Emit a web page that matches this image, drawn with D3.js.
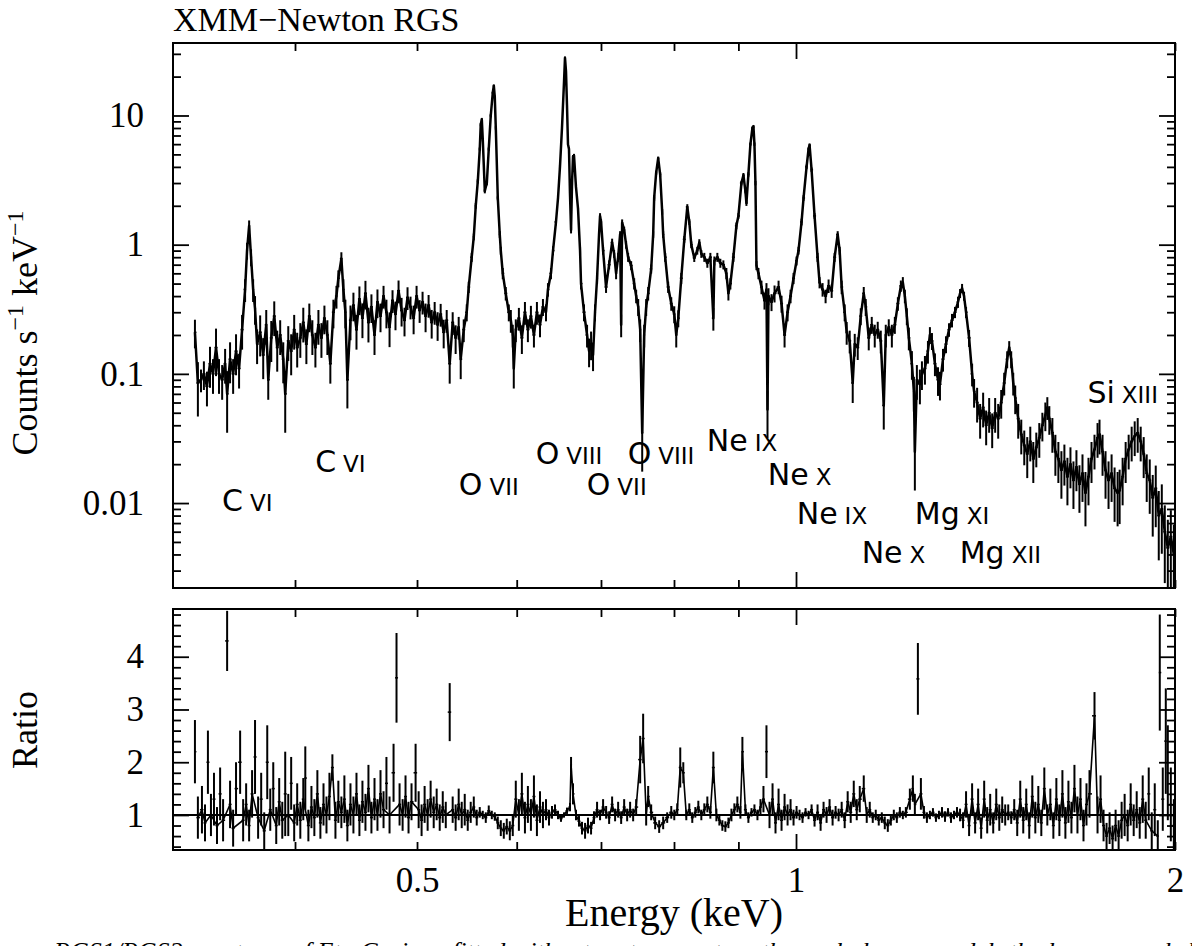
<!DOCTYPE html>
<html>
<head>
<meta charset="utf-8">
<script src="https://cdn.jsdelivr.net/npm/d3@7"></script>
<style>
  body { margin: 0; background: #fff; }
  svg text { fill: #000; }
</style>
</head>
<body>
<svg id="chart" width="1192" height="946"></svg>
<script>
// RGS spectrum: [energy keV, counts/s/keV, relative error]
const spectrum = [
  [0.3331,0.21,0.25],[0.3349,0.085,0.45],[0.3368,0.09,0.2],[0.3386,0.10,0.25],[0.3405,0.08,0.3],
  [0.3424,0.12,0.35],[0.3443,0.10,0.3],[0.3462,0.16,0.4],[0.3481,0.10,0.3],[0.3501,0.09,0.3],
  [0.3520,0.12,0.3],[0.3533,0.07,0.5],[0.3552,0.13,0.35],[0.3572,0.10,0.3],[0.3591,0.15,0.35],
  [0.3611,0.11,0.3],[0.3631,0.22,0.3],[0.3651,0.45,0.2],[0.3664,0.9,0.15],[0.3678,1.4,0.1],
  [0.3691,0.8,0.15],[0.3705,0.45,0.2],[0.3718,0.32,0.25],[0.3732,0.17,0.3],[0.3753,0.21,0.35],
  [0.3774,0.14,0.35],[0.3795,0.24,0.3],[0.3809,0.09,0.3],[0.3830,0.19,0.35],[0.3851,0.28,0.3],
  [0.3872,0.16,0.35],[0.3893,0.20,0.3],[0.3915,0.13,0.35],[0.3929,0.07,0.5],[0.3951,0.18,0.3],
  [0.3972,0.15,0.35],[0.3994,0.22,0.3],[0.4016,0.16,0.3],[0.4039,0.19,0.3],[0.4061,0.25,0.3],
  [0.4084,0.17,0.3],[0.4106,0.28,0.25],[0.4129,0.20,0.3],[0.4152,0.16,0.3],[0.4175,0.24,0.3],
  [0.4198,0.19,0.3],[0.4221,0.27,0.25],[0.4244,0.20,0.3],[0.4267,0.12,0.3],[0.4291,0.30,0.25],
  [0.4315,0.40,0.2],[0.4330,0.55,0.15],[0.4354,0.78,0.12],[0.4370,0.45,0.2],[0.4386,0.30,0.25],
  [0.4402,0.09,0.4],[0.4427,0.26,0.3],[0.4451,0.34,0.25],[0.4476,0.22,0.3],[0.4500,0.38,0.25],
  [0.4525,0.27,0.3],[0.4550,0.42,0.25],[0.4575,0.25,0.3],[0.4600,0.33,0.25],[0.4626,0.20,0.3],
  [0.4651,0.36,0.25],[0.4677,0.28,0.25],[0.4703,0.40,0.2],[0.4728,0.30,0.25],[0.4755,0.23,0.3],
  [0.4781,0.37,0.2],[0.4807,0.29,0.25],[0.4834,0.44,0.2],[0.4861,0.31,0.25],[0.4887,0.26,0.25],
  [0.4914,0.39,0.2],[0.4941,0.33,0.2],[0.4969,0.27,0.25],[0.4996,0.40,0.2],[0.5024,0.31,0.2],
  [0.5051,0.36,0.2],[0.5079,0.28,0.25],[0.5107,0.34,0.2],[0.5136,0.25,0.25],[0.5164,0.30,0.2],
  [0.5192,0.24,0.25],[0.5221,0.29,0.2],[0.5250,0.21,0.25],[0.5279,0.26,0.2],[0.5308,0.12,0.3],
  [0.5337,0.25,0.2],[0.5366,0.19,0.25],[0.5396,0.23,0.2],[0.5416,0.13,0.3],[0.5446,0.22,0.2],
  [0.5476,0.30,0.15],[0.5496,0.47,0.1],[0.5526,0.8,0.08],[0.5547,1.15,0.06],[0.5567,2.0,0.05],
  [0.5588,3.1,0.04],[0.5608,5.5,0.03],[0.5618,8.5,0.03],[0.5629,9.3,0.03],[0.5639,6.5,0.03],
  [0.5660,2.6,0.04],[0.5681,3.0,0.04],[0.5701,5.5,0.03],[0.5722,10,0.03],[0.5743,15,0.02],
  [0.5754,17,0.02],[0.5764,14,0.02],[0.5775,8,0.03],[0.5796,2.3,0.04],[0.5817,1.2,0.06],
  [0.5828,0.9,0.07],[0.5849,0.6,0.1],[0.5881,0.42,0.12],[0.5914,0.30,0.15],[0.5936,0.26,0.2],
  [0.5957,0.20,0.2],[0.5968,0.11,0.3],[0.5990,0.22,0.2],[0.6024,0.27,0.2],[0.6057,0.19,0.25],
  [0.6091,0.30,0.2],[0.6124,0.22,0.2],[0.6158,0.28,0.2],[0.6192,0.20,0.2],[0.6226,0.30,0.2],
  [0.6261,0.24,0.2],[0.6295,0.33,0.15],[0.6330,0.30,0.15],[0.6353,0.45,0.12],[0.6388,0.6,0.1],
  [0.6412,0.9,0.08],[0.6447,1.5,0.06],[0.6471,2.3,0.05],[0.6494,4,0.04],[0.6518,8,0.03],
  [0.6542,18,0.02],[0.6554,28,0.02],[0.6566,22,0.02],[0.6578,12,0.02],[0.6590,6,0.03],
  [0.6602,5.5,0.03],[0.6614,2.5,0.04],[0.6627,1.3,0.06],[0.6639,3,0.04],[0.6651,4.8,0.03],
  [0.6663,4.9,0.03],[0.6687,2.8,0.04],[0.6712,1.9,0.05],[0.6737,0.9,0.07],[0.6749,0.5,0.1],
  [0.6786,0.30,0.15],[0.6824,0.20,0.2],[0.6849,0.15,0.25],[0.6874,0.17,0.25],[0.6899,0.14,0.25],
  [0.6924,0.30,0.15],[0.6950,0.55,0.1],[0.6975,1.2,0.06],[0.6988,1.67,0.05],[0.7001,1.5,0.05],
  [0.7027,0.9,0.07],[0.7065,0.47,0.1],[0.7105,0.7,0.08],[0.7144,1.04,0.07],[0.7170,0.85,0.07],
  [0.7196,0.6,0.1],[0.7223,0.8,0.08],[0.7249,1.2,0.06],[0.7263,0.24,0.2],[0.7276,1.48,0.06],
  [0.7303,1.3,0.06],[0.7329,1.0,0.07],[0.7356,0.8,0.08],[0.7397,0.69,0.08],[0.7438,0.5,0.1],
  [0.7465,0.40,0.12],[0.7493,0.33,0.15],[0.7520,0.22,0.2],[0.7548,0.035,0.5],[0.7575,0.20,0.2],
  [0.7603,0.33,0.15],[0.7631,0.42,0.12],[0.7673,0.65,0.08],[0.7701,1.2,0.06],[0.7715,2.3,0.05],
  [0.7743,3.6,0.04],[0.7772,4.67,0.03],[0.7800,3.5,0.04],[0.7829,1.8,0.05],[0.7843,1.2,0.06],
  [0.7872,0.8,0.08],[0.7915,0.47,0.1],[0.7960,0.35,0.12],[0.8004,0.29,0.15],[0.8033,0.20,0.2],
  [0.8063,0.27,0.15],[0.8107,0.55,0.1],[0.8152,1.1,0.06],[0.8197,1.96,0.05],[0.8227,1.5,0.05],
  [0.8257,1.0,0.06],[0.8302,0.79,0.07],[0.8348,0.9,0.07],[0.8379,1.04,0.06],[0.8410,0.85,0.07],
  [0.8456,0.8,0.08],[0.8503,0.72,0.08],[0.8550,0.8,0.08],[0.8597,0.27,0.2],[0.8613,0.75,0.08],
  [0.8660,0.8,0.08],[0.8708,0.72,0.08],[0.8756,0.7,0.08],[0.8804,0.6,0.1],[0.8837,0.42,0.12],
  [0.8869,0.5,0.1],[0.8918,0.8,0.08],[0.8967,1.4,0.06],[0.9000,1.67,0.05],[0.9050,3.0,0.04],
  [0.9083,3.45,0.04],[0.9116,2.6,0.04],[0.9133,2.1,0.05],[0.9166,3.5,0.04],[0.9200,6,0.03],
  [0.9234,8.0,0.03],[0.9251,8.2,0.03],[0.9268,6,0.03],[0.9285,3,0.04],[0.9302,0.69,0.08],
  [0.9336,0.6,0.1],[0.9388,0.47,0.12],[0.9440,0.37,0.15],[0.9474,0.45,0.12],[0.9492,0.053,0.4],
  [0.9509,0.40,0.15],[0.9562,0.36,0.15],[0.9615,0.42,0.15],[0.9686,0.47,0.12],[0.9739,0.35,0.15],
  [0.9793,0.20,0.2],[0.9847,0.30,0.15],[0.9901,0.40,0.12],[0.9955,0.55,0.1],[1.0010,0.75,0.08],
  [1.0046,0.9,0.07],[1.0102,1.5,0.06],[1.0139,2.3,0.05],[1.0195,4.0,0.04],[1.0232,5.5,0.03],
  [1.0251,5.9,0.03],[1.0289,3.8,0.04],[1.0345,1.67,0.05],[1.0402,0.8,0.08],[1.0440,0.51,0.1],
  [1.0498,0.45,0.12],[1.0556,0.40,0.12],[1.0614,0.48,0.12],[1.0674,0.44,0.12],[1.0732,0.8,0.08],
  [1.0792,1.2,0.06],[1.0831,0.9,0.07],[1.0871,0.47,0.12],[1.0931,0.30,0.15],[1.0971,0.21,0.2],
  [1.1032,0.18,0.2],[1.1093,0.085,0.3],[1.1134,0.17,0.2],[1.1195,0.16,0.2],[1.1257,0.28,0.15],
  [1.1319,0.42,0.12],[1.1360,0.33,0.15],[1.1423,0.19,0.2],[1.1486,0.24,0.15],[1.1549,0.20,0.2],
  [1.1612,0.22,0.15],[1.1677,0.18,0.2],[1.1741,0.057,0.35],[1.1784,0.20,0.2],[1.1849,0.23,0.15],
  [1.1916,0.20,0.2],[1.1981,0.24,0.15],[1.2048,0.35,0.12],[1.2114,0.48,0.1],[1.2158,0.51,0.1],
  [1.2203,0.40,0.12],[1.2247,0.28,0.15],[1.2292,0.19,0.2],[1.2361,0.12,0.25],[1.2406,0.073,0.3],
  [1.2428,0.025,0.5],[1.2474,0.09,0.3],[1.2543,0.083,0.3],[1.2590,0.10,0.25],[1.2659,0.11,0.25],
  [1.2729,0.15,0.2],[1.2775,0.20,0.15],[1.2823,0.18,0.15],[1.2893,0.12,0.2],[1.2965,0.09,0.25],
  [1.3012,0.083,0.25],[1.3084,0.13,0.2],[1.3156,0.17,0.15],[1.3229,0.22,0.12],[1.3302,0.26,0.12],
  [1.3375,0.30,0.1],[1.3449,0.36,0.1],[1.3499,0.42,0.08],[1.3549,0.46,0.08],[1.3598,0.40,0.08],
  [1.3648,0.30,0.1],[1.3724,0.19,0.15],[1.3800,0.10,0.2],[1.3850,0.073,0.25],[1.3927,0.06,0.3],
  [1.4004,0.045,0.3],[1.4081,0.055,0.3],[1.4159,0.04,0.3],[1.4237,0.05,0.3],[1.4316,0.038,0.3],
  [1.4394,0.05,0.3],[1.4474,0.045,0.3],[1.4554,0.06,0.25],[1.4634,0.085,0.2],[1.4714,0.13,0.15],
  [1.4769,0.16,0.12],[1.4823,0.13,0.15],[1.4878,0.085,0.2],[1.4932,0.065,0.25],[1.5014,0.045,0.3],
  [1.5098,0.034,0.3],[1.5181,0.028,0.3],[1.5264,0.024,0.35],[1.5349,0.030,0.3],[1.5434,0.022,0.35],
  [1.5519,0.027,0.3],[1.5604,0.032,0.3],[1.5692,0.040,0.25],[1.5778,0.048,0.25],[1.5835,0.055,0.2],
  [1.5893,0.045,0.25],[1.5982,0.035,0.3],[1.6070,0.025,0.35],[1.6158,0.022,0.35],[1.6248,0.018,0.4],
  [1.6337,0.021,0.35],[1.6428,0.016,0.4],[1.6519,0.020,0.35],[1.6610,0.015,0.4],[1.6701,0.019,0.35],
  [1.6793,0.014,0.4],[1.6887,0.017,0.4],[1.6979,0.012,0.45],[1.7073,0.016,0.4],[1.7168,0.022,0.35],
  [1.7262,0.026,0.3],[1.7358,0.032,0.3],[1.7421,0.034,0.3],[1.7518,0.025,0.35],[1.7614,0.018,0.4],
  [1.7711,0.015,0.4],[1.7810,0.017,0.4],[1.7908,0.013,0.45],[1.8007,0.012,0.45],[1.8074,0.0125,0.45],
  [1.8173,0.016,0.4],[1.8274,0.022,0.35],[1.8375,0.026,0.3],[1.8476,0.030,0.3],[1.8579,0.033,0.3],
  [1.8681,0.035,0.3],[1.8784,0.030,0.3],[1.8887,0.024,0.35],[1.8992,0.017,0.4],[1.9097,0.015,0.45],
  [1.9202,0.011,0.5],[1.9308,0.013,0.5],[1.9415,0.008,0.55],[1.9523,0.009,0.55],[1.9630,0.006,0.6],
  [1.9739,0.0045,0.65],[1.9848,0.0055,0.6],[1.9958,0.004,0.7]
];

// data/model ratio: [energy keV, ratio, error]
const ratio = [
  [0.3331,2.2,0.6],[0.3349,0.95,0.4],[0.3374,1.1,0.45],[0.3393,0.85,0.35],[0.3411,2.0,0.6],
  [0.3430,1.0,0.4],[0.3449,1.3,0.5],[0.3468,0.8,0.35],[0.3488,1.4,0.5],[0.3507,0.9,0.4],
  [0.3533,4.3,0.57],[0.3552,1.2,0.45],[0.3572,0.75,0.35],[0.3591,1.5,0.5],[0.3618,2.0,0.6],
  [0.3638,0.9,0.4],[0.3658,1.2,0.4],[0.3678,0.8,0.3],[0.3698,1.4,0.45],[0.3718,2.1,0.7],
  [0.3739,0.95,0.4],[0.3760,1.3,0.5],[0.3781,0.7,0.35],[0.3802,2.0,0.7],[0.3823,1.1,0.4],
  [0.3844,1.5,0.5],[0.3865,0.8,0.35],[0.3886,1.25,0.45],[0.3908,0.9,0.35],[0.3929,1.4,0.8],
  [0.3951,1.0,0.4],[0.3972,1.6,0.5],[0.3994,0.85,0.35],[0.4016,1.2,0.4],[0.4039,0.9,0.35],
  [0.4061,1.3,0.4],[0.4076,1.7,0.6],[0.4099,0.8,0.3],[0.4122,1.15,0.4],[0.4144,0.95,0.35],
  [0.4167,1.4,0.45],[0.4190,0.85,0.3],[0.4214,1.2,0.4],[0.4237,1.0,0.35],[0.4260,1.35,0.45],
  [0.4283,1.9,0.25],[0.4307,0.9,0.35],[0.4330,1.25,0.4],[0.4354,1.05,0.3],[0.4378,1.3,0.45],
  [0.4402,0.8,0.3],[0.4427,1.2,0.4],[0.4451,1.0,0.35],[0.4476,1.4,0.4],[0.4500,0.9,0.3],
  [0.4525,1.25,0.4],[0.4550,1.05,0.35],[0.4575,1.5,0.45],[0.4600,0.95,0.3],[0.4626,1.3,0.4],
  [0.4651,1.0,0.3],[0.4677,1.4,0.45],[0.4703,1.1,0.35],[0.4728,1.6,0.5],[0.4755,1.0,0.35],
  [0.4790,1.8,0.55],[0.4816,3.6,0.85],[0.4843,1.2,0.4],[0.4870,1.0,0.3],[0.4896,1.35,0.4],
  [0.4923,0.95,0.3],[0.4950,1.25,0.35],[0.4987,1.8,0.55],[0.5015,1.1,0.35],[0.5042,0.9,0.3],
  [0.5070,1.2,0.35],[0.5098,1.0,0.3],[0.5126,1.3,0.35],[0.5155,1.05,0.3],[0.5183,1.2,0.3],
  [0.5212,0.95,0.25],[0.5241,1.15,0.3],[0.5270,1.0,0.25],[0.5308,2.95,0.55],[0.5337,1.1,0.25],
  [0.5366,0.95,0.25],[0.5396,1.2,0.3],[0.5426,1.0,0.25],[0.5456,1.1,0.3],[0.5486,0.9,0.2],
  [0.5516,1.05,0.2],[0.5547,1.15,0.2],[0.5577,0.95,0.15],[0.5608,1.05,0.1],[0.5639,1.0,0.08],
  [0.5670,0.95,0.1],[0.5701,1.08,0.1],[0.5733,1.0,0.08],[0.5764,0.97,0.08],[0.5796,0.85,0.12],
  [0.5828,0.75,0.15],[0.5860,0.7,0.15],[0.5892,0.78,0.15],[0.5925,0.7,0.18],[0.5957,0.8,0.2],
  [0.5990,1.3,0.35],[0.6024,1.0,0.3],[0.6057,1.4,0.4],[0.6091,0.95,0.3],[0.6124,1.2,0.35],
  [0.6158,1.0,0.3],[0.6192,1.35,0.4],[0.6226,0.9,0.3],[0.6261,1.15,0.3],[0.6295,1.0,0.25],
  [0.6330,1.1,0.2],[0.6365,0.95,0.15],[0.6400,1.05,0.12],[0.6435,1.1,0.1],[0.6471,1.0,0.08],
  [0.6506,0.93,0.06],[0.6542,1.0,0.05],[0.6578,1.08,0.06],[0.6614,1.15,0.08],[0.6627,1.95,0.15],
  [0.6651,1.4,0.2],[0.6687,1.0,0.1],[0.6724,0.88,0.1],[0.6761,0.75,0.12],[0.6799,0.7,0.15],
  [0.6836,0.8,0.15],[0.6874,0.75,0.12],[0.6911,0.95,0.12],[0.6950,1.1,0.15],[0.6988,1.0,0.1],
  [0.7027,1.15,0.15],[0.7066,1.05,0.12],[0.7105,0.95,0.12],[0.7144,1.2,0.15],[0.7183,1.0,0.12],
  [0.7223,1.1,0.15],[0.7263,0.95,0.12],[0.7303,1.15,0.15],[0.7343,1.0,0.12],[0.7383,1.1,0.15],
  [0.7424,1.0,0.12],[0.7465,1.15,0.15],[0.7520,2.05,0.45],[0.7561,2.45,0.47],[0.7603,1.0,0.2],
  [0.7631,1.35,0.2],[0.7673,1.05,0.15],[0.7729,0.85,0.12],[0.7786,0.78,0.12],[0.7843,0.85,0.12],
  [0.7901,0.95,0.1],[0.7960,1.05,0.12],[0.8004,1.0,0.1],[0.8048,1.1,0.12],[0.8092,1.9,0.38],
  [0.8137,1.8,0.2],[0.8182,1.0,0.1],[0.8227,1.1,0.12],[0.8272,0.95,0.1],[0.8318,1.05,0.1],
  [0.8364,1.15,0.12],[0.8410,1.0,0.1],[0.8456,1.1,0.12],[0.8503,1.2,0.15],[0.8550,1.05,0.12],
  [0.8597,1.9,0.3],[0.8645,1.0,0.12],[0.8692,0.9,0.1],[0.8740,0.8,0.1],[0.8788,0.78,0.1],
  [0.8837,0.85,0.1],[0.8886,1.0,0.12],[0.8934,1.1,0.12],[0.8983,1.2,0.15],[0.9033,1.05,0.12],
  [0.9066,2.2,0.28],[0.9116,1.1,0.1],[0.9166,0.95,0.1],[0.9218,1.05,0.08],[0.9268,1.1,0.1],
  [0.9319,1.0,0.1],[0.9371,1.15,0.15],[0.9422,1.3,0.25],[0.9474,2.2,0.5],[0.9527,1.0,0.25],
  [0.9580,1.3,0.3],[0.9632,0.85,0.2],[0.9686,1.2,0.3],[0.9739,0.9,0.2],[0.9793,1.15,0.25],
  [0.9847,1.0,0.2],[0.9901,1.1,0.2],[0.9955,0.95,0.15],[1.0010,1.05,0.12],[1.0065,1.0,0.1],
  [1.0120,0.95,0.1],[1.0176,1.05,0.08],[1.0232,1.0,0.08],[1.0289,1.1,0.1],[1.0345,0.9,0.12],
  [1.0402,1.05,0.15],[1.0460,0.85,0.15],[1.0517,1.1,0.15],[1.0575,1.0,0.15],[1.0633,1.15,0.15],
  [1.0692,0.95,0.15],[1.0751,1.05,0.12],[1.0810,1.0,0.12],[1.0871,1.1,0.15],[1.0931,0.9,0.15],
  [1.0991,1.25,0.2],[1.1052,1.05,0.2],[1.1114,1.4,0.25],[1.1175,1.1,0.2],[1.1237,1.3,0.25],
  [1.1319,1.5,0.25],[1.1381,1.0,0.15],[1.1444,1.1,0.15],[1.1507,0.95,0.1],[1.1570,1.0,0.1],
  [1.1634,0.9,0.1],[1.1699,0.95,0.1],[1.1763,0.85,0.12],[1.1828,0.8,0.12],[1.1894,0.9,0.1],
  [1.1959,1.0,0.1],[1.2025,0.95,0.1],[1.2092,1.05,0.1],[1.2158,1.0,0.08],[1.2225,1.05,0.1],
  [1.2315,1.3,0.2],[1.2383,1.5,0.25],[1.2428,1.2,0.2],[1.2497,3.58,0.68],[1.2566,1.4,0.3],
  [1.2636,1.05,0.12],[1.2705,0.95,0.1],[1.2775,1.0,0.08],[1.2846,1.05,0.08],[1.2917,0.95,0.08],
  [1.2988,1.0,0.08],[1.3060,1.05,0.1],[1.3132,0.97,0.1],[1.3204,1.05,0.08],[1.3277,0.95,0.1],
  [1.3350,1.0,0.08],[1.3424,1.05,0.1],[1.3499,1.0,0.12],[1.3573,0.9,0.15],[1.3648,1.2,0.25],
  [1.3724,0.8,0.2],[1.3800,1.3,0.3],[1.3876,0.85,0.2],[1.3953,1.2,0.3],[1.4030,0.75,0.2],
  [1.4108,1.3,0.35],[1.4186,0.9,0.25],[1.4264,1.1,0.3],[1.4343,0.85,0.2],[1.4423,1.2,0.3],
  [1.4503,0.95,0.25],[1.4581,1.1,0.25],[1.4661,1.0,0.2],[1.4742,1.05,0.15],[1.4823,0.95,0.12],
  [1.4905,1.1,0.2],[1.4987,0.85,0.25],[1.5070,1.3,0.35],[1.5153,0.9,0.25],[1.5236,1.2,0.3],
  [1.5320,0.8,0.25],[1.5406,1.35,0.4],[1.5491,0.95,0.3],[1.5576,1.2,0.35],[1.5662,0.85,0.25],
  [1.5748,1.5,0.4],[1.5835,1.0,0.2],[1.5923,1.2,0.3],[1.6011,0.8,0.25],[1.6099,1.3,0.4],
  [1.6188,0.9,0.3],[1.6278,1.4,0.45],[1.6367,0.85,0.3],[1.6458,1.25,0.4],[1.6549,0.95,0.3],
  [1.6640,1.5,0.45],[1.6732,1.0,0.35],[1.6825,1.3,0.4],[1.6918,0.8,0.3],[1.7011,1.2,0.4],
  [1.7105,1.4,0.45],[1.7262,2.88,0.45],[1.7358,1.0,0.35],[1.7454,1.3,0.45],[1.7550,0.8,0.3],
  [1.7647,0.6,0.25],[1.7745,0.75,0.3],[1.7843,0.55,0.25],[1.7941,0.8,0.3],[1.8040,0.6,0.3],
  [1.8140,0.9,0.35],[1.8240,1.0,0.4],[1.8341,0.8,0.3],[1.8443,1.2,0.4],[1.8545,0.9,0.3],
  [1.8647,1.1,0.35],[1.8750,0.85,0.3],[1.8853,1.3,0.45],[1.8957,0.9,0.35],[1.9062,1.4,0.5],
  [1.9167,0.7,0.35],[1.9273,1.1,0.5],[1.9380,0.6,0.3],[1.9451,3.7,1.1],[1.9558,1.3,0.6],
  [1.9666,2.4,1.0],[1.9739,1.8,0.9],[1.9848,1.2,0.7],[1.9958,0.8,0.5]
];

// line identifications: [ion, stage, energy anchor, rate anchor]
const lineLabels = [
  ["C", "VI", 0.350, 0.00868],
  ["C", "VI", 0.415, 0.0173],
  ["O", "VII", 0.5397, 0.01153],
  ["O", "VIII", 0.6212, 0.01995],
  ["O", "VII", 0.682, 0.01153],
  ["O", "VIII", 0.735, 0.01995],
  ["Ne", "IX", 0.8494, 0.0251],
  ["Ne", "X", 0.9496, 0.01375],
  ["Ne", "IX", 1.0013, 0.0069],
  ["Mg", "XI", 1.2427, 0.0069],
  ["Ne", "X", 1.1276, 0.003456],
  ["Mg", "XII", 1.349, 0.003456],
  ["Si", "XIII", 1.704, 0.0598]
];

const energyLabels = [0.5, 1, 2];
const energyMajor = [1];
const energyMinor = [0.4, 0.5, 0.6, 0.7, 0.8, 0.9, 2];
const rateLabels = [0.01, 0.1, 1, 10];
const rateMinor = [0.003, 0.004, 0.005, 0.006, 0.007, 0.008, 0.009,
  0.02, 0.03, 0.04, 0.05, 0.06, 0.07, 0.08, 0.09,
  0.2, 0.3, 0.4, 0.5, 0.6, 0.7, 0.8, 0.9,
  2, 3, 4, 5, 6, 7, 8, 9, 20, 30];
const ratioLabels = [1, 2, 3, 4];
const ratioMinor = [0.4, 0.6, 0.8, 1.2, 1.4, 1.6, 1.8, 2.2, 2.4, 2.6, 2.8,
  3.2, 3.4, 3.6, 3.8, 4.2, 4.4, 4.6, 4.8];

const svg = d3.select('#chart');
const serif = '"Liberation Serif", "Times New Roman", serif';
const sans = '"DejaVu Sans", "Liberation Sans", sans-serif';

const left = 173, right = 1175;
const topPanel = { top: 43, bottom: 588 };
const ratioPanel = { top: 609, bottom: 850 };

const x = d3.scaleLog().domain([0.32, 2]).range([left, right]);
const yRate = d3.scaleLog().domain([0.0022, 36.4]).range([topPanel.bottom, topPanel.top]);
const yRatio = d3.scaleLinear().domain([0.336, 4.905]).range([ratioPanel.bottom, ratioPanel.top]);

svg.append('rect').attr('width', 1192).attr('height', 946).attr('fill', '#fff');

// clip paths for the two panels
const defs = svg.append('defs');
defs.append('clipPath').attr('id', 'clipTop').append('rect')
  .attr('x', left).attr('y', topPanel.top)
  .attr('width', right - left).attr('height', topPanel.bottom - topPanel.top);
defs.append('clipPath').attr('id', 'clipRatio').append('rect')
  .attr('x', left).attr('y', ratioPanel.top)
  .attr('width', right - left).attr('height', ratioPanel.bottom - ratioPanel.top);

// half bin width from neighbouring energies
function binEdges(rows) {
  return rows.map((d, i) => {
    const prev = i > 0 ? rows[i - 1][0] : d[0];
    const next = i < rows.length - 1 ? rows[i + 1][0] : d[0];
    return { d: d, lo: Math.sqrt(prev * d[0]), hi: Math.sqrt(next * d[0]) };
  });
}

// spectrum
const gSpec = svg.append('g').attr('clip-path', 'url(#clipTop)');
gSpec.selectAll('line.err')
  .data(spectrum)
  .enter()
  .append('line')
  .attr('class', 'err')
  .attr('x1', d => x(d[0]))
  .attr('x2', d => x(d[0]))
  .attr('y1', d => yRate(Math.max(d[1] * (1 - d[2]), 0.001)))
  .attr('y2', d => yRate(d[1] * (1 + d[2])))
  .attr('stroke', '#000')
  .attr('stroke-width', 2);

gSpec.selectAll('line.bin')
  .data(binEdges(spectrum))
  .enter()
  .append('line')
  .attr('class', 'bin')
  .attr('x1', b => x(b.lo))
  .attr('x2', b => x(b.hi))
  .attr('y1', b => yRate(b.d[1]))
  .attr('y2', b => yRate(b.d[1]))
  .attr('stroke', '#000')
  .attr('stroke-width', 1.5);

gSpec.append('path')
  .datum(spectrum)
  .attr('d', d3.line().x(d => x(d[0])).y(d => yRate(d[1])))
  .attr('fill', 'none')
  .attr('stroke', '#000')
  .attr('stroke-width', 2.5)
  .attr('stroke-linejoin', 'round');

// ratio
const gRatio = svg.append('g').attr('clip-path', 'url(#clipRatio)');
gRatio.append('line')
  .attr('x1', left).attr('x2', right)
  .attr('y1', yRatio(1)).attr('y2', yRatio(1))
  .attr('stroke', '#000')
  .attr('stroke-width', 1.8);

gRatio.selectAll('line.err')
  .data(ratio)
  .enter()
  .append('line')
  .attr('class', 'err')
  .attr('x1', d => x(d[0]))
  .attr('x2', d => x(d[0]))
  .attr('y1', d => yRatio(d[1] - d[2]))
  .attr('y2', d => yRatio(d[1] + d[2]))
  .attr('stroke', '#000')
  .attr('stroke-width', 2);

gRatio.selectAll('line.bin')
  .data(binEdges(ratio))
  .enter()
  .append('line')
  .attr('class', 'bin')
  .attr('x1', b => x(b.lo))
  .attr('x2', b => x(b.hi))
  .attr('y1', b => yRatio(b.d[1]))
  .attr('y2', b => yRatio(b.d[1]))
  .attr('stroke', '#000')
  .attr('stroke-width', 1.5);

gRatio.append('path')
  .datum(ratio.filter(d => d[2] < 0.5))
  .attr('d', d3.line().x(d => x(d[0])).y(d => yRatio(d[1])))
  .attr('fill', 'none')
  .attr('stroke', '#000')
  .attr('stroke-width', 1.6);

// axes: ticks point inwards on all four sides
function ticks(axis, transform, values, size) {
  const g = svg.append('g')
    .attr('transform', transform)
    .call(axis.tickValues(values).tickSize(-size).tickSizeOuter(0).tickFormat(''));
  g.select('.domain').remove();
  g.selectAll('line').attr('stroke', '#000').attr('stroke-width', 1.8);
}

function labels(axis, transform, values, pad, fmt) {
  const g = svg.append('g')
    .attr('transform', transform)
    .call(axis.tickValues(values).tickSize(0).tickPadding(pad).tickFormat(fmt));
  g.select('.domain').remove();
  g.selectAll('text')
    .attr('font-family', serif)
    .attr('font-size', 35)
    .attr('fill', '#000');
}

[topPanel, ratioPanel].forEach(p => {
  ticks(d3.axisBottom(x), `translate(0,${p.bottom})`, energyMinor, 8);
  ticks(d3.axisBottom(x), `translate(0,${p.bottom})`, energyMajor, 16);
  ticks(d3.axisTop(x), `translate(0,${p.top})`, energyMinor, 8);
  ticks(d3.axisTop(x), `translate(0,${p.top})`, energyMajor, 16);
});

ticks(d3.axisLeft(yRate), `translate(${left},0)`, rateMinor, 8);
ticks(d3.axisLeft(yRate), `translate(${left},0)`, rateLabels, 16);
ticks(d3.axisRight(yRate), `translate(${right},0)`, rateMinor, 8);
ticks(d3.axisRight(yRate), `translate(${right},0)`, rateLabels, 16);

ticks(d3.axisLeft(yRatio), `translate(${left},0)`, ratioMinor, 8);
ticks(d3.axisLeft(yRatio), `translate(${left},0)`, ratioLabels, 16);
ticks(d3.axisRight(yRatio), `translate(${right},0)`, ratioMinor, 8);
ticks(d3.axisRight(yRatio), `translate(${right},0)`, ratioLabels, 16);

labels(d3.axisLeft(yRate), `translate(${left},0)`, rateLabels, 29, d => String(d));
labels(d3.axisLeft(yRatio), `translate(${left},0)`, ratioLabels, 29, d => String(d));
labels(d3.axisBottom(x), `translate(0,${ratioPanel.bottom})`, energyLabels, 17, d => String(d));

// frames
[topPanel, ratioPanel].forEach(p => {
  svg.append('rect')
    .attr('x', left).attr('y', p.top)
    .attr('width', right - left).attr('height', p.bottom - p.top)
    .attr('fill', 'none')
    .attr('stroke', '#000')
    .attr('stroke-width', 2);
});

// line identifications
const lab = svg.append('g').attr('font-family', sans);
lineLabels.forEach(d => {
  const t = lab.append('text')
    .attr('x', x(d[2]))
    .attr('y', yRate(d[3]))
    .attr('font-size', 30);
  t.append('tspan').text(d[0]);
  t.append('tspan').attr('font-size', 23).attr('dx', 7).text(d[1]);
});

// titles
svg.append('text')
  .attr('x', left)
  .attr('y', 31)
  .attr('font-family', serif)
  .attr('font-size', 34)
  .text('XMM\u2212Newton RGS');

svg.append('text')
  .attr('x', (left + right) / 2)
  .attr('y', 926)
  .attr('text-anchor', 'middle')
  .attr('font-family', serif)
  .attr('font-size', 40)
  .text('Energy (keV)');

const yTitle = svg.append('text')
  .attr('transform', 'translate(37,333) rotate(-90)')
  .attr('text-anchor', 'middle')
  .attr('font-family', serif)
  .attr('font-size', 36);
yTitle.append('tspan').text('Counts s');
yTitle.append('tspan').attr('font-size', 24).attr('dy', -14).text('\u22121');
yTitle.append('tspan').attr('dy', 14).text(' keV');
yTitle.append('tspan').attr('font-size', 24).attr('dy', -14).text('\u22121');

svg.append('text')
  .attr('transform', 'translate(37,730) rotate(-90)')
  .attr('text-anchor', 'middle')
  .attr('font-family', serif)
  .attr('font-size', 36)
  .text('Ratio');

// caption (cut off by the page edge, as in the source figure)
svg.append('text')
  .attr('x', 54)
  .attr('y', 960)
  .attr('font-family', serif)
  .attr('font-style', 'italic')
  .attr('font-size', 26)
  .attr('fill', '#222')
  .text('RGS1/RGS2 spectrum of Eta Carinae fitted with a two-temperature thermal plasma model; the lower panel shows the data/model ratio.');
</script>
</body>
</html>
